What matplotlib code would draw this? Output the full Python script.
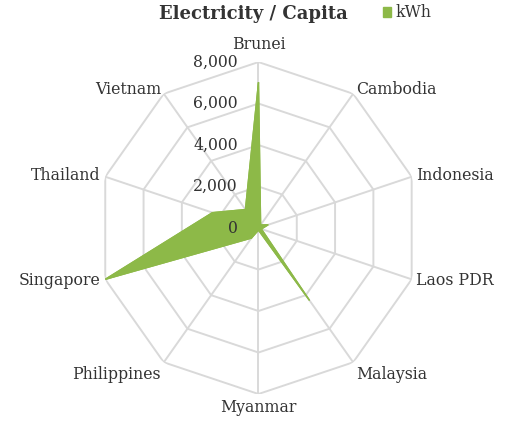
import numpy as np
import matplotlib
matplotlib.use("Agg")
import matplotlib.pyplot as plt

# Data
countries = ["Brunei", "Cambodia", "Indonesia", "Laos PDR", "Malaysia",
             "Myanmar", "Philippines", "Singapore", "Thailand", "Vietnam"]
kwh = [7000, 180, 500, 150, 4300, 100, 600, 8000, 2400, 1100]
rings = [0, 2000, 4000, 6000, 8000]
ring_labels = ["0", "2,000", "4,000", "6,000", "8,000"]

green = "#8DB948"
grid_col = "#D9D9D9"
txt_col = "#333333"
plt.rcParams['font.family'] = ['DejaVu Serif']
fs = 11.3

n = len(countries)
theta = np.arange(n) * 2 * np.pi / n
theta_c = np.append(theta, theta[0])

fig = plt.figure(figsize=(5.09, 4.30), dpi=100)
ax = fig.add_axes([0.1913, 0.0837, 0.633, 0.772], projection='polar')
ax.set_aspect('auto')
ax.set_theta_offset(np.pi / 2)
ax.set_theta_direction(-1)
ax.set_ylim(0, rings[-1])
ax.grid(False)
ax.spines['polar'].set_visible(False)
ax.set_xticks([])
ax.set_yticks([])

# polygon gridlines and spokes
for r in rings[1:]:
    ax.plot(theta_c, [r] * (n + 1), color=grid_col, lw=1.4, zorder=1)
for t in theta:
    ax.plot([t, t], [0, rings[-1]], color=grid_col, lw=1.4, zorder=1)

# data
vals = np.append(kwh, kwh[0])
ax.fill(theta_c, vals, color=green, zorder=3)
ax.plot(theta_c, vals, color=green, lw=1.0, zorder=3)

# radial tick labels
for r, lab in zip(rings, ring_labels):
    ax.annotate(lab, xy=(0, r), xytext=(-15, 0), textcoords='offset points',
                ha='right', va='center', fontsize=fs, color=txt_col, zorder=4)

# category labels
for t, name in zip(theta, countries):
    s, c = np.sin(t), np.cos(t)
    ha = 'left' if s > 0.1 else ('right' if s < -0.1 else 'center')
    dy = 0
    if c > 0.9:
        va = 'bottom'
        dy = 3
    elif c < -0.5:
        va = 'top'
    else:
        va = 'center'
    ax.annotate(name, xy=(t, rings[-1] * 1.03), xytext=(0, dy),
                textcoords='offset points', ha=ha, va=va, fontsize=fs,
                color=txt_col, annotation_clip=False)

fig.text(0.497, 0.968, "Electricity / Capita", ha='center', va='center',
         fontsize=13, fontweight='bold', color=txt_col)
ax.legend([plt.Rectangle((0, 0), 1, 1, color=green)], ["kWh"],
          loc='center left', bbox_to_anchor=(0.724, 0.970),
          bbox_transform=fig.transFigure, frameon=False, fontsize=fs,
          handlelength=0.55, handleheight=0.55, handletextpad=0.25,
          labelcolor=txt_col)

fig.savefig("out.png", dpi=100, facecolor='white')
